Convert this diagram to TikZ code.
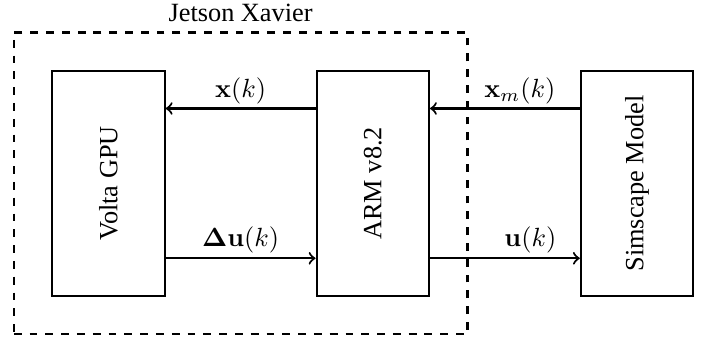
\documentclass[tikz,border=0pt]{standalone}
\usepackage[no-math]{fontspec}
\setmainfont{Liberation Serif}
\usepackage{amsmath}
\usetikzlibrary{%
	calc,%
	fit,%
	positioning,%
}
\tikzset{
	>=to,%
	nodes={align=center},%
	block/.style={%
			draw,%
			rectangle,%
			thick,%
			minimum width=1.5cm,%
			minimum height=3cm,%
			fill=white},%
	board/.style={%
			draw,%
			rectangle,%
			thick,%
			dashed,%
			inner sep=0.5cm},%
	signal/.style={->, thick},%
	siglabel/.style={above, inner sep=1.4pt},%
}
\newcommand{\blocktext}[1]{\rotatebox{90}{#1}}

\begin{document}
\begin{tikzpicture}
	\node[block] (gpu) {\blocktext{Volta GPU}};
	\node[block, right=2cm of gpu] (arm) {\blocktext{ARM v8.2}};
	\node[block, right=2cm of arm] (sim) {\blocktext{Simscape Model}};

	\node[board, fit=(gpu)(arm), label={[overlay]above:Jetson Xavier}] (jx) {};

	\useasboundingbox ($(jx.north west)+(-0.17,0.42)$) rectangle ($(sim.east |- jx.south)+(0.25,-0.1)$);

	\draw[signal] ([yshift=1cm]arm.west) -- node[siglabel] {$\mathbf{x}(k)$} ([yshift=1cm]gpu.east);
	\draw[signal] ([yshift=-1cm]gpu.east) -- node[siglabel] {$\mathbf{\Delta u}(k)$} ([yshift=-1cm]arm.west);
	\draw[signal] ([yshift=1cm]sim.west) -- node[siglabel, pos=0.4] {$\mathbf{x}_m(k)$} ([yshift=1cm]arm.east);
	\draw[signal] ([yshift=-1cm]arm.east) -- node[siglabel, pos=0.67] {$\mathbf{u}(k)$} ([yshift=-1cm]sim.west);
\end{tikzpicture}
\end{document}
